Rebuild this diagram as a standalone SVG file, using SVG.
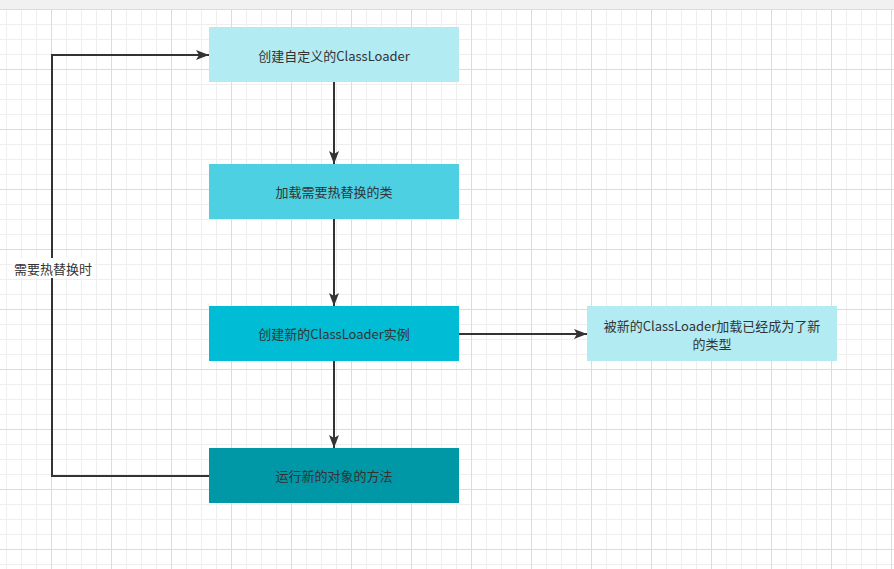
<svg xmlns="http://www.w3.org/2000/svg" width="894" height="569" viewBox="0 0 894 569">
  <defs>
    <pattern id="gridMajor" patternUnits="userSpaceOnUse" x="51" y="9" width="60" height="60">
      <path d="M0.5,0 V60 M0,0.5 H60" fill="none" stroke="#dcdcdc" stroke-width="1"/>
    </pattern>
    <pattern id="gridMinor" patternUnits="userSpaceOnUse" x="6" y="9" width="15" height="15">
      <path d="M0.5,0 V15 M0,0.5 H15" fill="none" stroke="#eeeeee" stroke-width="1"/>
    </pattern>
    <marker id="arrow" markerUnits="userSpaceOnUse" viewBox="0 0 13 10" refX="13" refY="5" markerWidth="13" markerHeight="10" orient="auto">
      <path d="M0,0 L13,5 L0,10 L3,5 Z" fill="#333333"/>
    </marker>
  </defs>
  <style>
    .lbl { font-family: "Noto Sans CJK SC", "Noto Sans", sans-serif; font-size: 13px; fill: #333333; text-anchor: middle; dominant-baseline: central; }
    .edge { fill: none; stroke: #333333; stroke-width: 2; }
  </style>
  <rect x="0" y="0" width="894" height="569" fill="#ffffff"/>
  <rect x="0" y="9" width="894" height="560" fill="url(#gridMinor)"/>
  <rect x="0" y="9" width="894" height="560" fill="url(#gridMajor)"/>
  <rect x="0" y="0" width="894" height="9" fill="#f1f1f1"/>

  <g id="connectors">
    <path class="edge" d="M334,82 V164" marker-end="url(#arrow)"/>
    <path class="edge" d="M334,219 V306" marker-end="url(#arrow)"/>
    <path class="edge" d="M334,361 V448" marker-end="url(#arrow)"/>
    <path class="edge" d="M459,334 H587" marker-end="url(#arrow)"/>
    <path class="edge" d="M209,476 H52 V55 H209" marker-end="url(#arrow)"/>
    <rect x="12" y="258" width="82" height="20" fill="#ffffff"/>
    <text class="lbl" x="53" y="268">需要热替换时</text>
  </g>

  <g id="node1">
    <rect x="209" y="27" width="250" height="55" fill="#b2ebf2"/>
    <text class="lbl" x="334" y="55">创建自定义的ClassLoader</text>
  </g>
  <g id="node2">
    <rect x="209" y="164" width="250" height="55" fill="#4dd0e1"/>
    <text class="lbl" x="334" y="191.5">加载需要热替换的类</text>
  </g>
  <g id="node3">
    <rect x="209" y="306" width="250" height="55" fill="#00bcd4"/>
    <text class="lbl" x="334" y="333.5">创建新的ClassLoader实例</text>
  </g>
  <g id="node4">
    <rect x="209" y="448" width="250" height="55" fill="#0097a7"/>
    <text class="lbl" x="334" y="475.5">运行新的对象的方法</text>
  </g>
  <g id="node5">
    <rect x="587" y="306" width="250" height="55" fill="#b2ebf2"/>
    <text class="lbl" x="712" y="325">被新的ClassLoader加载已经成为了新</text>
    <text class="lbl" x="712" y="343">的类型</text>
  </g>
</svg>
